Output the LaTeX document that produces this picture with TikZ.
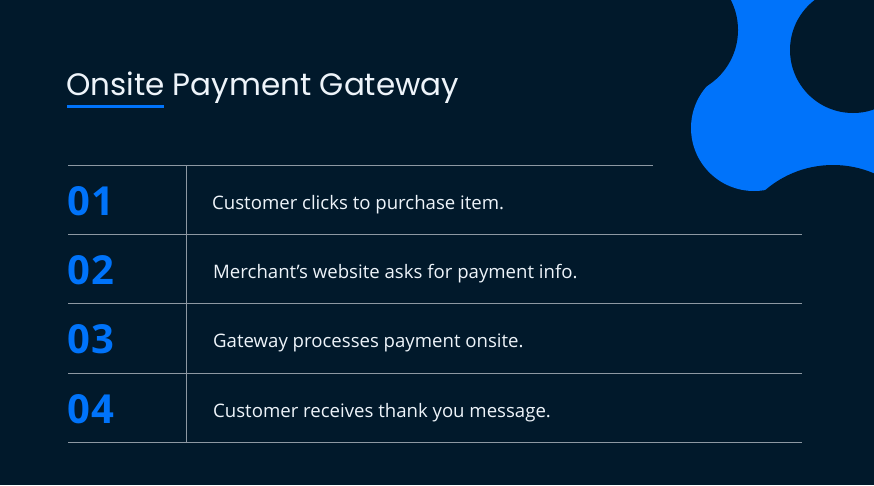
\documentclass[tikz,border=0pt]{standalone}
\usepackage{fontspec}
\setmainfont{Open Sans}
\newfontfamily\titlefont{Poppins}
\definecolor{bgnavy}{HTML}{01192B}
\definecolor{brandblue}{HTML}{0073FA}
\definecolor{titlewhite}{HTML}{EEF4FA}
\definecolor{rulegrey}{HTML}{8D98A3}
\tikzset{
  rowrule/.style={draw=rulegrey, line width=0.9pt},
  numlabel/.style={anchor=base west, inner sep=0pt, text=brandblue, font=\fontsize{40}{40}\selectfont\bfseries\addfontfeatures{LetterSpace=4}},
  steplabel/.style={anchor=base west, inner sep=0pt, text=titlewhite, font=\fontsize{18.6}{18.6}\selectfont},
}
\begin{document}
\begin{tikzpicture}[x=1pt,y=-1pt]
\useasboundingbox (0,0) rectangle (874,485);
\fill[bgnavy] (0,0) rectangle (874,485);
% blob
\begin{scope}
\clip (0,0) rectangle (874,485);
\fill[brandblue] (754,128) circle (63);
\fill[brandblue] (720,-2) -- (880,-2) -- (880,200) -- (780,200) -- (754,128) -- (710,90) -- cycle;
\fill[bgnavy] (672,30) circle (66);
\fill[bgnavy] (853,50) circle (63);
\fill[bgnavy] (833,269) circle (104);
\end{scope}
% title
\node[anchor=base west, inner sep=0pt, text=titlewhite, font=\titlefont\fontsize{31}{31}\selectfont] (title) at (66,95) {Onsite Payment Gateway};
\fill[brandblue] (67,104.5) rectangle (164,107.5);
% table
\coordinate (t0l) at (68,165); \coordinate (t0r) at (653,165);
\draw[rowrule] (t0l) -- (t0r);
\foreach \y/\n in {234/1,303/2,373/3,442/4} {
  \coordinate (l\n) at (68,\y); \coordinate (r\n) at (802,\y);
  \draw[rowrule] (l\n) -- (r\n);
}
\coordinate (vtop) at (186,165); \coordinate (vbot) at (186,442);
\draw[rowrule] (vtop) -- (vbot);
\node[numlabel] (n1) at (67,215) {01};
\node[numlabel] (n2) at (67,284) {02};
\node[numlabel] (n3) at (67,353) {03};
\node[numlabel] (n4) at (67,423) {04};
\node[steplabel] (s1) at (212,209) {Customer clicks to purchase item.};
\node[steplabel] (s2) at (213,278) {Merchant’s website asks for payment info.};
\node[steplabel] (s3) at (213,347) {Gateway processes payment onsite.};
\node[steplabel] (s4) at (213,417) {Customer receives thank you message.};
\end{tikzpicture}
\end{document}
